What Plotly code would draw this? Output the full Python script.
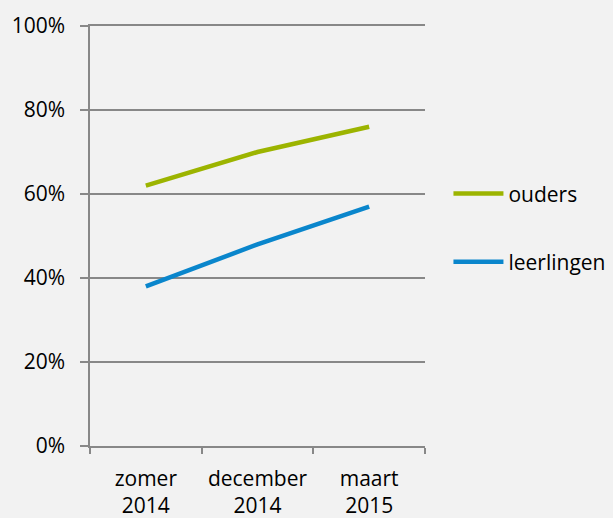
import plotly.graph_objects as go

categories = ["zomer<br>2014", "december<br>2014", "maart<br>2015"]
ouders = [62, 70, 76]
leerlingen = [38, 48, 57]
y_ticks = [0, 20, 40, 60, 80, 100]
y_labels = ["0%", "20%", "40%", "60%", "80%", "100%"]

font = dict(family="Open Sans, sans-serif", size=21, color="#000000")

fig = go.Figure()
fig.add_trace(go.Scatter(x=categories, y=ouders, name="ouders", mode="lines",
                         line=dict(color="#9cb400", width=4.5), legendgroup="a"))
fig.add_trace(go.Scatter(x=categories, y=leerlingen, name="leerlingen", mode="lines",
                         line=dict(color="#0a86cc", width=4.5), legendgroup="b"))

fig.update_layout(
    width=613, height=518,
    paper_bgcolor="#f2f2f2", plot_bgcolor="#f2f2f2",
    margin=dict(l=90, r=188, t=26, b=72, autoexpand=False),
    font=font,
    showlegend=True,
    legend=dict(x=1.07, xanchor="left", y=0.649, yanchor="top",
                traceorder="grouped", tracegroupgap=38,
                itemwidth=50, bgcolor="rgba(0,0,0,0)",
                font=font),
    xaxis=dict(type="category", range=[-0.5, 2.5], tickson="boundaries",
               tickangle=0, automargin=False,
               ticks="outside", ticklen=6, tickcolor="#888888", tickwidth=1.5,
               showline=True, linecolor="#888888", linewidth=1.5, mirror=True,
               ticklabelstandoff=13,
               showgrid=False, zeroline=False),
    yaxis=dict(range=[0, 100], tickvals=y_ticks, ticktext=y_labels,
               automargin=False,
               ticks="outside", ticklen=8, tickcolor="#888888", tickwidth=1.5,
               showline=True, linecolor="#888888", linewidth=1.5,
               ticklabelstandoff=11,
               showgrid=True, gridcolor="#888888", gridwidth=1.5,
               zeroline=False),
)

fig.write_html("out.html", config={"displayModeBar": False},
               post_script="document.body.style.margin='0';document.body.style.background='#f2f2f2';")
